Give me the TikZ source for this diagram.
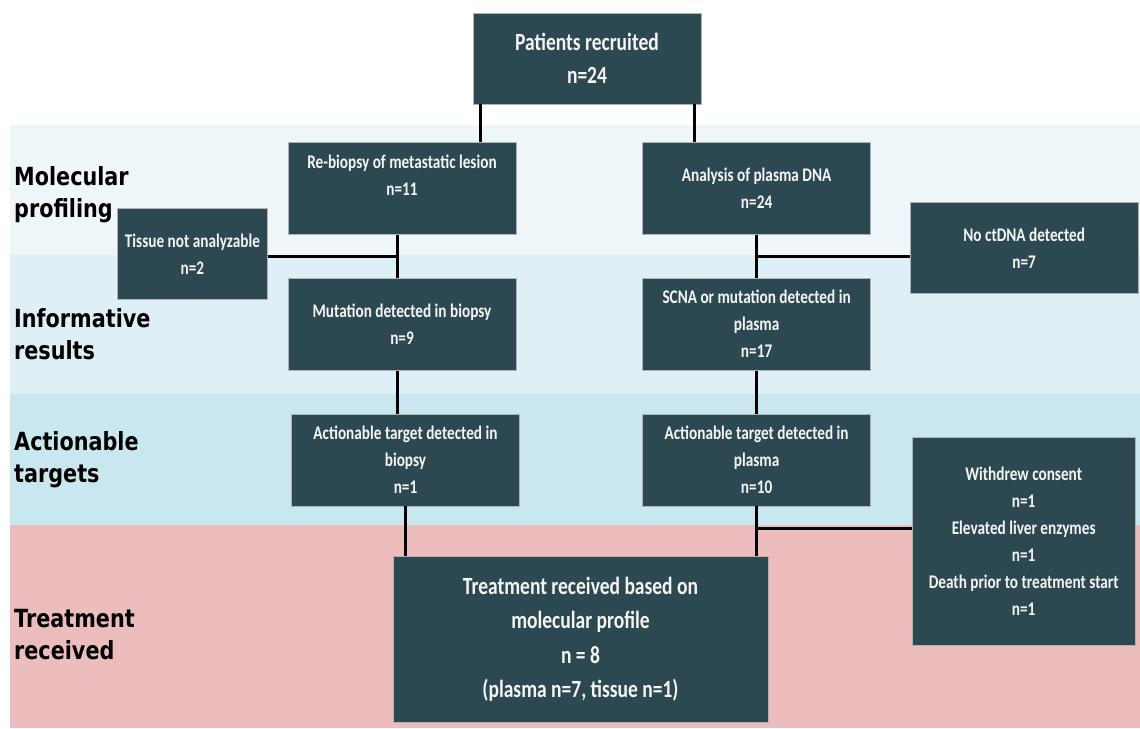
\documentclass[tikz,border=0pt]{standalone}
\usepackage{fontspec}
\usetikzlibrary{positioning,calc}
\newfontfamily\boxfont{Carlito}[UprightFont=* Bold, FakeStretch=0.79]
\newfontfamily\bandfont{DejaVu Sans}[UprightFont=* Bold, FakeStretch=0.83]
\definecolor{boxteal}{HTML}{2C4951}
\definecolor{bandA}{HTML}{EEF6FA}
\definecolor{bandB}{HTML}{DFEFF6}
\definecolor{bandC}{HTML}{C9E7EF}
\definecolor{bandD}{HTML}{EDBDBD}

\begin{document}
\begin{tikzpicture}[x=1pt, y=-1pt,
                    main node/.style={rectangle,draw=gray!60,line width=0.6pt,fill=boxteal,text=white!96!black,
                      align=center,minimum width=228pt,minimum height=92pt,inner sep=2pt,
                      font=\boxfont\fontsize{19.3}{27}\selectfont},
                    band label/.style={anchor=base west,align=left,inner sep=0pt,
                      font=\bandfont\fontsize{25}{32}\selectfont},
                    link/.style={draw=black,line width=3pt}]

  \useasboundingbox (0,0) rectangle (1140,728);
  \fill[bandA] (10,125) rectangle (1140,255);
  \fill[bandB] (10,255) rectangle (1140,394);
  \fill[bandC] (10,394) rectangle (1140,525);
  \fill[bandD] (10,525) rectangle (1140,728);

  \node[band label] (lmol) at (14,217) {Molecular\\profiling};
  \node[band label] (linf) at (14,359) {Informative\\results};
  \node[band label] (lact) at (14,482) {Actionable\\targets};
  \node[band label] (ltrt) at (14,659) {Treatment\\received};

  \node[main node,minimum height=91pt,font=\boxfont\fontsize{24.7}{33}\selectfont] (patients) at (587,58.5) {Patients recruited\\n=24};
  \node[main node] (rebiopsy) [below=38pt of patients,xshift=-185pt] {Re-biopsy of metastatic lesion\\n=11\\\mbox{}};
  \node[main node] (plasma) [right=126pt of rebiopsy] {Analysis of plasma DNA\\n=24};
  \node[main node,minimum width=150pt,minimum height=91pt] (tissue) [left=20pt of rebiopsy,yshift=-65.5pt] {Tissue not analyzable\\n=2};
  \node[main node,minimum height=91pt] (noctdna) [right=39pt of plasma,yshift=-59.5pt] {No ctDNA detected\\n=7};
  \node[main node] (mutation) [below=43pt of rebiopsy] {Mutation detected in biopsy\\n=9};
  \node[main node] (scna) [below=43pt of plasma] {SCNA or mutation detected in\\plasma\\n=17};
  \node[main node] (actbiopsy) [below=43pt of mutation,xshift=3.5pt] {Actionable target detected in\\biopsy\\n=1};
  \node[main node] (actplasma) [below=43pt of scna] {Actionable target detected in\\plasma\\n=10};
  \node[main node,minimum width=223pt,minimum height=208pt] (withdrew) [right=41pt of actplasma,yshift=-81pt]
       {Withdrew consent\\n=1\\Elevated liver enzymes\\n=1\\Death prior to treatment start\\n=1};
  \node[main node,minimum width=375pt,minimum height=166pt,font=\boxfont\fontsize{24.7}{34.5}\selectfont] (treatment) [below=50pt of actbiopsy,xshift=175pt]
       {Treatment received based on\\molecular profile\\n = 8\\(plasma n=7, tissue n=1)};

  \coordinate (pleft) at ([xshift=8pt]patients.south west);
  \coordinate (pright) at ([xshift=-7pt]patients.south east);
  \coordinate (bup) at ([xshift=-5pt]rebiopsy.south);
  \coordinate (bmid) at ([xshift=-5pt]mutation.south);
  \coordinate (lhub) at ($(plasma.south)!0.5!(scna.north)$);
  \coordinate (whub) at ($(actplasma.south)!0.44!(actplasma.south |- treatment.north)$);

  \path[link]
    (pleft) edge (pleft |- rebiopsy.north)
    (pright) edge (pright |- plasma.north)
    (bup) edge (bup |- mutation.north)
    (tissue.east |- lhub) edge (bup |- lhub)
    (plasma.south) edge (scna.north)
    (lhub) edge (lhub -| noctdna.west)
    (bmid) edge (bmid |- actbiopsy.north)
    (scna.south) edge (actplasma.north)
    (actbiopsy.south) edge (actbiopsy.south |- treatment.north)
    (actplasma.south) edge (actplasma.south |- treatment.north)
    (whub) edge (whub -| withdrew.west);

\end{tikzpicture}
\end{document}
